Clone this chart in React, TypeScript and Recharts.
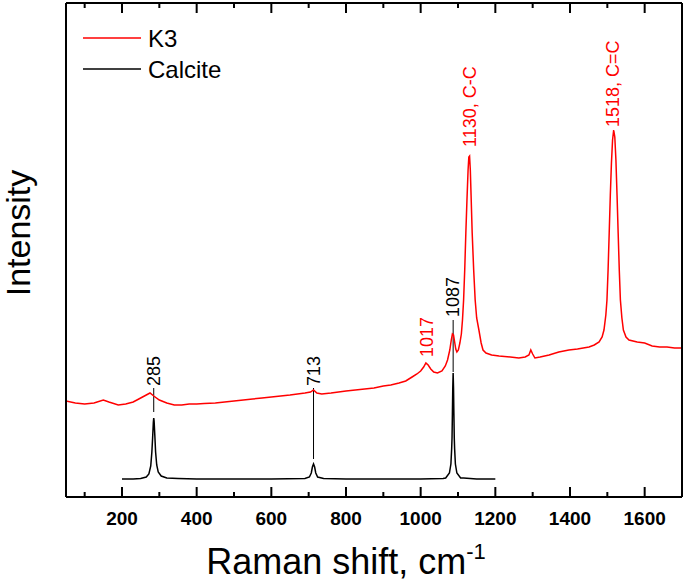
import { ComposedChart, Line, Scatter, XAxis, YAxis, ReferenceLine, ReferenceDot, Legend } from "recharts"

// K3 spectrum (Raman shift, arbitrary intensity)
const k3Shift = [
  50, 75, 100, 125, 150, 165, 190, 210, 230, 250, 265, 275, 285, 300, 320, 340, 360, 380, 400, 420,
  450, 475, 500, 525, 550, 575, 600, 625, 650, 670, 690, 705, 713, 722, 735, 760, 780, 800, 825, 850,
  875, 900, 920, 942, 960, 977, 990, 1000, 1008, 1014, 1020, 1027, 1035, 1045, 1057, 1066, 1072, 1078,
  1082, 1085, 1088, 1091, 1094, 1097, 1101, 1105, 1109, 1112, 1115, 1118, 1121, 1124, 1127, 1129, 1131,
  1133, 1135, 1138, 1142, 1146, 1150, 1156, 1162, 1167, 1175, 1190, 1210, 1240, 1263, 1280, 1290, 1295,
  1300, 1306, 1320, 1344, 1370, 1397, 1420, 1451, 1465, 1478, 1486, 1491, 1496, 1499, 1502, 1505, 1508,
  1511, 1514, 1517, 1520, 1523, 1526, 1529, 1532, 1535, 1539, 1543, 1550, 1558, 1580, 1600, 1620, 1640,
  1660, 1680, 1700,
]
const k3Counts = [
  96, 94, 93, 94, 97, 95, 92, 93, 95, 99, 102, 104, 101, 97, 94, 92, 92, 93, 93, 93.5,
  94, 95, 96, 97, 98, 99, 100, 101, 102, 103, 104, 105, 107, 104, 103, 104, 105, 106, 107, 108,
  109, 111, 112, 114, 116, 120, 123, 126, 130, 134, 132, 128, 125, 124, 126, 131, 137, 147,
  157, 163, 162, 155, 148, 145, 147, 154, 163, 177, 197, 227, 264, 297, 327, 340, 341,
  327, 302, 264, 227, 197, 179, 167, 154, 147, 144, 142, 141, 140, 139, 140, 142, 147,
  143, 139, 140, 142, 145, 147, 148, 150, 152, 155, 160, 167, 182, 197, 227, 264, 302,
  334, 357, 367, 360, 337, 302, 264, 227, 197, 179, 167, 160, 157, 155, 154, 151, 150,
  150, 149, 149,
]

// Calcite reference spectrum
const calciteShift = [
  200, 230, 250, 265, 272, 277, 280, 282, 284, 285, 286, 288, 290, 293, 297, 305, 320, 350, 400, 600,
  690, 702, 707, 710, 713, 716, 719, 724, 740, 800, 1000, 1060, 1067, 1077, 1081, 1083, 1084, 1085,
  1086, 1087, 1088, 1089, 1090, 1091, 1093, 1097, 1107, 1115, 1150, 1200,
]
const calciteCounts = [
  18, 18, 18.5, 20, 23, 31, 45, 59, 75, 79, 76, 61, 45, 32, 25, 21, 19, 18.5, 18, 18,
  18.5, 20, 24, 30, 33, 30, 24, 20, 18.5, 18, 18, 18.5, 19, 24, 33, 48, 59, 83,
  109, 124, 109, 83, 59, 48, 33, 24, 19, 19, 18, 18,
]

// peak markers: black lines from calcite peak up to its label
const markerShift = [285, 713, 1087]
const markerLow = [85, 38, 125]
const markerHigh = [109, 109, 177]

// peak labels (anchor at bottom of the rotated text)
const peakLabels = ["285", "713", "1087", "1017", "1130, C-C", "1518, C=C"]
const peakLabelShift = [285, 713, 1087, 1017, 1133, 1515]
const peakLabelPos = [111, 111, 180, 140, 350, 370]
const peakLabelColor = ["#000", "#000", "#000", "#ff0000", "#ff0000", "#ff0000"]

const legendOrder = ["K3", "Calcite"]

const xTicks = [100, 200, 300, 400, 500, 600, 700, 800, 900, 1000, 1100, 1200, 1300, 1400, 1500, 1600]

const k3Data = k3Shift.map((x, i) => ({ x, y: k3Counts[i] }))
const calciteData = calciteShift.map((x, i) => ({ x, y: calciteCounts[i] }))

const FONT = "'Liberation Sans', Arial, sans-serif"
const Y_MAX = 494
const Y_DOMAIN: [number, number] = [0, Y_MAX]

// anchors for the inward ticks on the top frame edge
const topTickData = xTicks.map((x) => ({ x, y: Y_MAX }))

function BottomTick(props: any) {
  const { x, y, payload } = props
  const major = payload.value % 200 === 0
  return (
    <g>
      <line x1={x} x2={x} y1={y} y2={y - (major ? 10 : 5)} stroke="#000" strokeWidth={2} />
      {major && (
        <text x={x} y={y + 28} textAnchor="middle" fontSize={19} fontWeight="bold" fontFamily={FONT} fill="#000">
          {payload.value}
        </text>
      )}
    </g>
  )
}

function TopTickMark(props: any) {
  const { cx, cy, payload } = props
  const major = payload.x % 200 === 0
  return <line x1={cx} x2={cx} y1={cy} y2={cy + (major ? 10 : 5)} stroke="#000" strokeWidth={2} />
}

function XTitle(props: any) {
  const { viewBox } = props
  const cx = viewBox.x + viewBox.width / 2 - 28
  return (
    <text x={cx} y={viewBox.y + 77} textAnchor="middle" fontSize={36} fontFamily={FONT} fill="#000">
      Raman shift, cm
      <tspan fontSize={22} dy={-15}>-1</tspan>
    </text>
  )
}

function YTitle(props: any) {
  const { viewBox } = props
  const cx = viewBox.x - 47
  const cy = viewBox.y + viewBox.height / 2 - 17
  return (
    <text
      x={cx}
      y={cy}
      transform={`rotate(-90 ${cx} ${cy})`}
      textAnchor="middle"
      dominantBaseline="central"
      fontSize={34}
      fontFamily={FONT}
      fill="#000"
    >
      Intensity
    </text>
  )
}

function LegendBox(props: any) {
  const items = (props.payload || [])
    .filter((p: any) => legendOrder.includes(p.value))
    .sort((a: any, b: any) => legendOrder.indexOf(a.value) - legendOrder.indexOf(b.value))
  return (
    <svg width={200} height={64}>
      {items.map((p: any, i: number) => (
        <g key={p.value}>
          <line x1={0} x2={58} y1={15 + 31 * i} y2={15 + 31 * i} stroke={p.color} strokeWidth={1.5} />
          <text x={65} y={15 + 31 * i} dominantBaseline="central" fontSize={24} fontFamily={FONT} fill="#000">
            {p.value}
          </text>
        </g>
      ))}
    </svg>
  )
}

export default function App() {
  return (
    <div style={{ position: "absolute", left: 0, top: 0, width: 685, height: 583, background: "#fff" }}>
      <ComposedChart width={685} height={583} margin={{ top: 3, right: 2, bottom: 0, left: 65 }}>
        <XAxis
          type="number"
          dataKey="x"
          domain={[50, 1700]}
          ticks={xTicks}
          interval={0}
          allowDataOverflow
          height={86}
          tickSize={0}
          tickMargin={0}
          tickLine={false}
          tick={<BottomTick />}
          axisLine={{ stroke: "#000", strokeWidth: 2 }}
          label={XTitle}
        />
        <YAxis
          type="number"
          domain={Y_DOMAIN}
          allowDataOverflow
          width={1}
          tick={false}
          tickLine={false}
          axisLine={{ stroke: "#000", strokeWidth: 2 }}
          label={YTitle}
        />
        <YAxis
          yAxisId="right"
          orientation="right"
          type="number"
          domain={Y_DOMAIN}
          allowDataOverflow
          width={1}
          tick={false}
          tickLine={false}
          axisLine={{ stroke: "#000", strokeWidth: 2 }}
        />
        <Legend
          layout="vertical"
          align="center"
          verticalAlign="middle"
          content={LegendBox}
          wrapperStyle={{ left: 83, top: 23, width: 200, height: 64 }}
        />
        <ReferenceLine y={Y_MAX} stroke="#000" strokeWidth={2} ifOverflow="visible" />
        {markerShift.map((x, i) => (
          <ReferenceLine
            key={"m" + x}
            segment={[{ x, y: markerLow[i] }, { x, y: markerHigh[i] }]}
            stroke="#000"
            strokeWidth={1}
          />
        ))}
        <Line
          data={k3Data}
          dataKey="y"
          name="K3"
          type="linear"
          stroke="#ff0000"
          strokeWidth={1.5}
          dot={false}
          isAnimationActive={false}
          legendType="line"
        />
        <Line
          data={calciteData}
          dataKey="y"
          name="Calcite"
          type="linear"
          stroke="#000"
          strokeWidth={1.5}
          dot={false}
          isAnimationActive={false}
          legendType="line"
        />
        <Scatter
          data={topTickData}
          dataKey="y"
          name="topTicks"
          legendType="none"
          shape={TopTickMark}
          isAnimationActive={false}
        />
        {peakLabels.map((text, i) => (
          <ReferenceDot
            key={"l" + i}
            x={peakLabelShift[i]}
            y={peakLabelPos[i]}
            r={0}
            shape={(p: any) => (
              <text
                x={p.cx}
                y={p.cy}
                transform={`rotate(-90 ${p.cx} ${p.cy})`}
                textAnchor="start"
                dominantBaseline="central"
                fontSize={18}
                fontFamily={FONT}
                fill={peakLabelColor[i]}
              >
                {text}
              </text>
            )}
          />
        ))}
      </ComposedChart>
    </div>
  )
}
